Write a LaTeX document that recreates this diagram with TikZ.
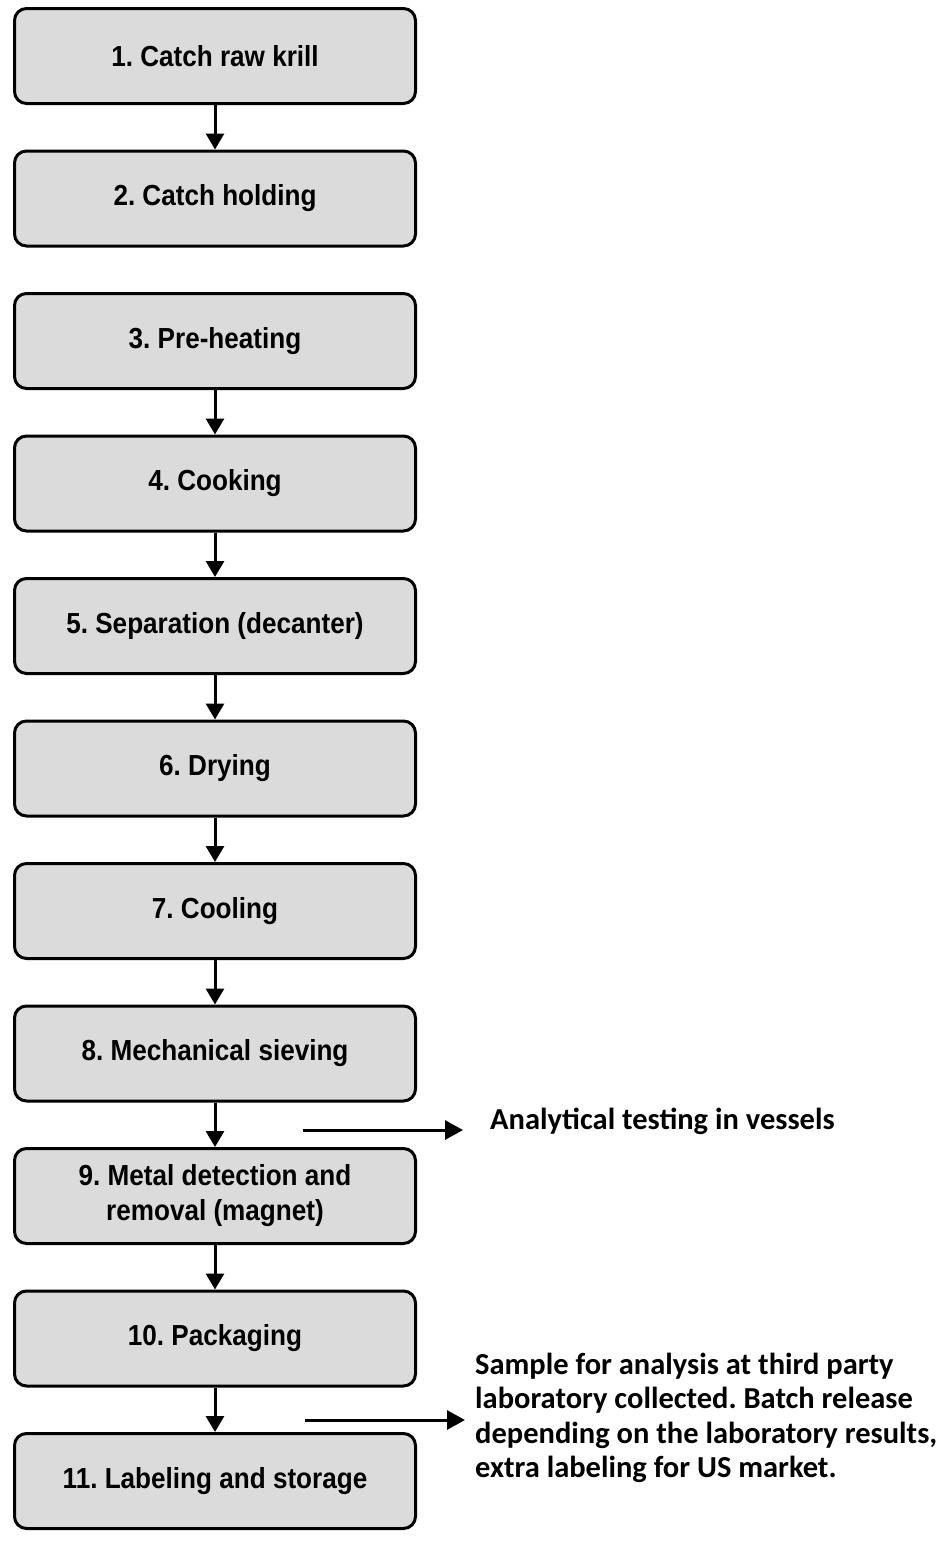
\documentclass[tikz,border=0pt]{standalone}
\usepackage{fontspec}
\setmainfont{Liberation Sans}[FakeStretch=0.9]
\newfontfamily\notefont{Carlito}
\usetikzlibrary{arrows.meta, positioning}
\frenchspacing

\begin{document}
\begin{tikzpicture}[
  x=1pt, y=1pt,
  node distance=44.5pt and 25pt,
  box/.style={draw, line width=3pt, rounded corners=12pt, fill=black!14, minimum width=401pt, minimum height=95pt, font=\bfseries\fontsize{29}{35}\selectfont},
  arrow/.style={-{Triangle[width=18pt,length=16pt]}, line width=3pt},
  sidearrow/.style={-{Triangle[width=19pt,length=18pt]}, line width=3pt},
  note/.style={align=left, inner sep=0pt, font=\notefont\bfseries\fontsize{30.5}{34.5}\selectfont},
]
\useasboundingbox (0,0) rectangle (952,-1543);

% Nodes
\node[align=center, box] (n1) at (215,-56) {1. Catch raw krill};
\node[align=center, box, below=of n1] (n2) {2. Catch holding};
\node[align=center, box, below=of n2] (n3) {3. Pre-heating};
\node[align=center, box, below=of n3] (n4) {4. Cooking};
\node[align=center, box, below=of n4] (n5) {5. Separation (decanter)};
\node[align=center, box, below=of n5] (n6) {6. Drying};
\node[align=center, box, below=of n6] (n7) {7. Cooling};
\node[align=center, box, below=of n7] (n8) {8. Mechanical sieving};
\node[align=center, box, below=of n8] (n9) {9. Metal detection and \\ removal (magnet)};
\node[align=center, box, below=of n9] (n10) {10. Packaging};
\node[align=center, box, below=of n10] (n11) {11. Labeling and storage};
% Side notes
\coordinate (s1) at (303,-1130);
\coordinate[right=160pt of s1] (e1);
\node[note, anchor=west] (t1) at (490,-1121) {Analytical testing in vessels};
\coordinate (s2) at (305,-1420);
\coordinate[right=160pt of s2] (e2);
\node[note, anchor=west] (t2) at (475,-1418) {Sample for analysis at third party\\
laboratory collected. Batch release\\
depending on the laboratory results,\\
extra labeling for US market.};
% Arrows
\draw[arrow] (n1) -- (n2);
\draw[arrow] (n3) -- (n4);
\draw[arrow] (n4) -- (n5);
\draw[arrow] (n5) -- (n6);
\draw[arrow] (n6) -- (n7);
\draw[arrow] (n7) -- (n8);
\draw[arrow] (n8) -- (n9);
\draw[arrow] (n9) -- (n10);
\draw[arrow] (n10) -- (n11);
\draw[sidearrow] (s1) -- (e1);
\draw[sidearrow] (s2) -- (e2);
\end{tikzpicture}
\end{document}
